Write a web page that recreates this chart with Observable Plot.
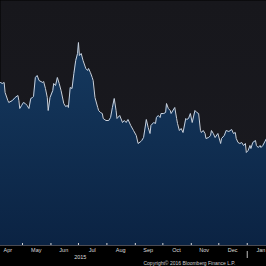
<!DOCTYPE html>
<html>
<head>
<meta charset="utf-8">
<script src="https://cdn.jsdelivr.net/npm/d3@7"></script>
<script src="https://cdn.jsdelivr.net/npm/@observablehq/plot@0.6"></script>
<style>
  html, body { margin: 0; padding: 0; background: #000; }
  #chart { width: 266px; height: 266px; overflow: hidden; }
</style>
</head>
<body>
<div id="chart"></div>
<script>
// Series (arbitrary index units)
const dates = ["2015-04-07","2015-04-09","2015-04-11","2015-04-12","2015-04-15","2015-04-16","2015-04-20","2015-04-23","2015-04-26","2015-04-27","2015-04-28","2015-04-30","2015-05-02","2015-05-04","2015-05-06","2015-05-08","2015-05-10","2015-05-12","2015-05-13","2015-05-15","2015-05-17","2015-05-19","2015-05-23","2015-05-24","2015-05-26","2015-05-28","2015-05-29","2015-05-31","2015-06-03","2015-06-04","2015-06-06","2015-06-08","2015-06-10","2015-06-12","2015-06-15","2015-06-17","2015-06-19","2015-06-20","2015-06-22","2015-06-24","2015-06-26","2015-06-28","2015-06-30","2015-07-01","2015-07-02","2015-07-04","2015-07-06","2015-07-09","2015-07-11","2015-07-12","2015-07-14","2015-07-16","2015-07-17","2015-07-19","2015-07-22","2015-07-23","2015-07-25","2015-07-27","2015-07-28","2015-07-31","2015-08-03","2015-08-05","2015-08-07","2015-08-09","2015-08-11","2015-08-12","2015-08-15","2015-08-18","2015-08-20","2015-08-22","2015-08-24","2015-08-27","2015-08-30","2015-09-02","2015-09-04","2015-09-07","2015-09-08","2015-09-10","2015-09-13","2015-09-15","2015-09-17","2015-09-18","2015-09-21","2015-09-23","2015-09-24","2015-09-26","2015-09-28","2015-09-29","2015-10-02","2015-10-04","2015-10-05","2015-10-07","2015-10-09","2015-10-10","2015-10-14","2015-10-16","2015-10-17","2015-10-19","2015-10-21","2015-10-23","2015-10-26","2015-10-27","2015-10-29","2015-10-31","2015-11-02","2015-11-05","2015-11-07","2015-11-09","2015-11-11","2015-11-12","2015-11-14","2015-11-16","2015-11-17","2015-11-20","2015-11-22","2015-11-23","2015-11-25","2015-11-27","2015-11-30","2015-12-03","2015-12-04","2015-12-07","2015-12-09","2015-12-12","2015-12-15","2015-12-17","2015-12-19","2015-12-20","2015-12-22","2015-12-24","2015-12-26","2015-12-28","2015-12-30","2015-12-31","2016-01-02","2016-01-04","2016-01-05","2016-01-07","2016-01-10","2016-01-11","2016-01-13","2016-01-15","2016-01-16","2016-01-18","2016-01-22"];
const values = [81.5,81,81.5,76.5,72.5,71.5,72.5,74,75,72.5,68.5,70,71.5,71,70,68.5,73.5,74,74.5,84,85,82.5,81.5,82,78.5,74,67.5,74,77.5,81,80,84,81,77.5,71,69.5,70,69,79,78.5,86,92.5,96,101.5,95,96,92.5,88.5,87.5,88.5,86.5,84,82.5,74,69,67.5,66.5,66,63.5,62.5,62.5,64,69,73.5,67.5,63.5,65,61.5,62.5,61.5,63,60,57.5,55,51,52,52.5,54,63,59,56,60,61.5,61,64,65,64,66,66,66.5,71,68.5,67.5,66,69,63.5,61,57.5,58.5,56.5,63.5,63,63.5,66,61.5,67.5,66.5,66,57.5,56.5,57.5,56,53.5,54,55,57.5,56,54,56,51,53.5,55,57.5,57,58,56,56.5,53.5,51.5,51,51.5,50,51,46.5,47.5,50,48.5,51.5,52.5,50,49,50,49,50,53.5];

// Axis annotations
const monthStarts = ["2015-05-01","2015-06-01","2015-07-01","2015-08-01","2015-09-01","2015-10-01","2015-11-01","2015-12-01","2016-01-01"];
const monthLabels = ["Apr","May","Jun","Jul","Aug","Sep","Oct","Nov","Dec","Jan"];
const monthMids = ["2015-04-15","2015-05-16","2015-06-15","2015-07-16","2015-08-16","2015-09-15","2015-10-16","2015-11-15","2015-12-16","2016-01-16"];
const yearLabel = "2015";
const yearLabelDate = "2015-07-03";
const yearBreak = "2016-01-01";
const copyright = "Copyright\u00A9 2016 Bloomberg Finance L.P.";
const copyrightDate = "2015-10-30";
const xDomain = ["2015-04-07","2016-01-22"];
const yDomain = [0, 122.5];

const parse = d3.utcParse("%Y-%m-%d");
const series = dates.map((d, i) => ({date: parse(d), value: values[i]}));
const labels = monthLabels.map((m, i) => ({date: parse(monthMids[i]), label: m}));

const font = "'Liberation Sans', Arial, sans-serif";

const svg = Plot.plot({
  width: 266,
  height: 266,
  marginTop: 0,
  marginRight: 0,
  marginLeft: 0,
  marginBottom: 21,
  style: {background: "#000", fontFamily: font},
  x: {type: "utc", domain: xDomain.map(parse), axis: null},
  y: {domain: yDomain, axis: null},
  marks: [
    Plot.frame({fill: "url(#bgGrad)", stroke: "none"}),
    Plot.areaY(series, {x: "date", y: "value", fill: "url(#areaGrad)"}),
    Plot.lineY(series, {x: "date", y: "value", stroke: "#c9d1dc", strokeWidth: 1}),
    Plot.ruleY([0], {stroke: "#4a4a52", strokeWidth: 1}),
    Plot.ruleX(monthStarts.map(parse), {y1: 0, y2: 1, stroke: "#d8d8d8", strokeWidth: 1}),
    Plot.ruleX([parse(yearBreak)], {y1: -3, y2: -6.5, stroke: "#bfbfbf", strokeWidth: 1}),
    Plot.text(labels, {x: "date", text: "label", frameAnchor: "bottom", dy: 5, fill: "#dcdcdc", fontSize: 5.5, lineAnchor: "middle"}),
    Plot.text([yearLabel], {x: () => parse(yearLabelDate), text: d => d, frameAnchor: "bottom", dy: 11.5, fill: "#dcdcdc", fontSize: 5.5, lineAnchor: "middle"}),
    Plot.text([copyright], {x: () => parse(copyrightDate), text: d => d, frameAnchor: "bottom", dy: 18, fill: "#cfcfcf", fontSize: 5, lineAnchor: "middle"})
  ]
});

const defs = d3.select(svg).insert("defs", ":first-child");
const bg = defs.append("linearGradient").attr("id", "bgGrad").attr("x1", 0).attr("y1", 0).attr("x2", 0).attr("y2", 1);
bg.append("stop").attr("offset", "0%").attr("stop-color", "#17171c");
bg.append("stop").attr("offset", "100%").attr("stop-color", "#1a1a20");
const ag = defs.append("linearGradient").attr("id", "areaGrad").attr("x1", 0).attr("y1", 0).attr("x2", 0).attr("y2", 1);
ag.append("stop").attr("offset", "0%").attr("stop-color", "#15395f");
ag.append("stop").attr("offset", "100%").attr("stop-color", "#0b2343");

document.getElementById("chart").appendChild(svg);
</script>
</body>
</html>
